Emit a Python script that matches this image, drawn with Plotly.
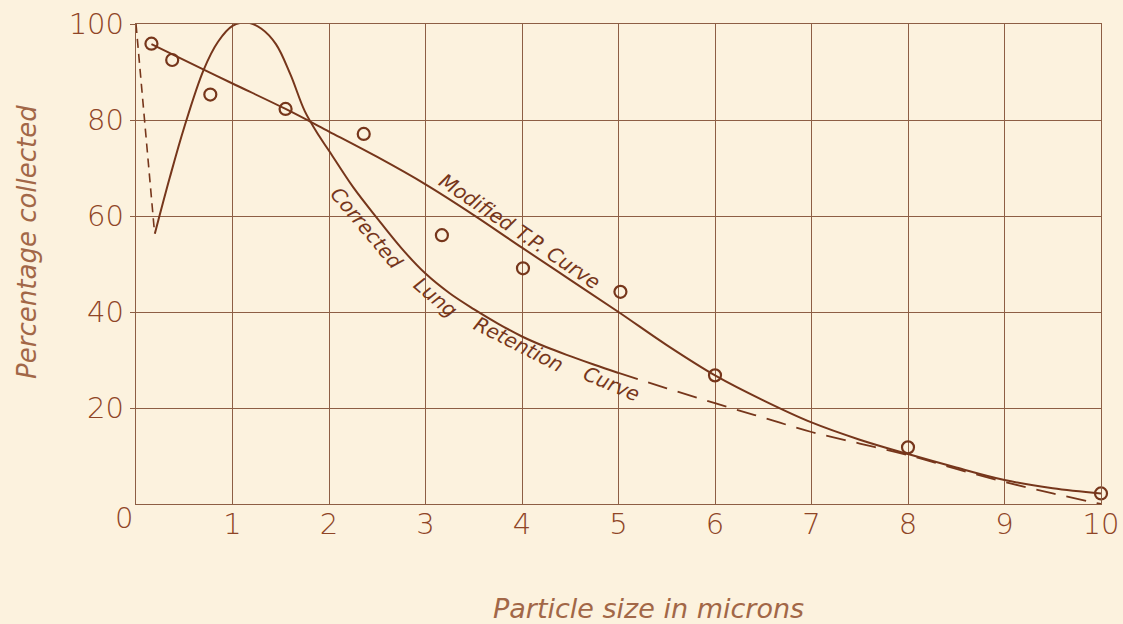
import plotly.graph_objects as go

# Measured collection efficiency (open circles)
pt_x = [0.16, 0.375, 0.77, 1.55, 2.36, 3.17, 4.01, 5.02, 6.0, 8.0, 10.0]
pt_y = [95.9, 92.5, 85.3, 82.3, 77.1, 56.0, 49.1, 44.2, 26.8, 11.8, 2.2]

# Modified T.P. curve
tp_x = [0.16, 0.67, 1.0, 1.55, 2.0, 2.5, 3.0, 3.5, 4.0, 4.5, 5.0, 5.5, 6.0, 6.5, 7.0, 7.5, 8.0, 8.5, 9.0, 9.5, 10.0]
tp_y = [95.8, 90.8, 87.6, 82.3, 77.6, 72.3, 66.6, 60.2, 53.4, 46.7, 40.0, 33.1, 26.8, 21.6, 17.0, 13.4, 10.4, 7.6, 5.0, 3.3, 2.2]

# Corrected lung retention curve (solid part)
lr_x = [0.195, 0.35, 0.5, 0.7, 0.85, 1.0, 1.15, 1.3, 1.45, 1.6, 1.75, 1.9, 2.0, 2.25, 2.5,
        2.75, 3.0, 3.25, 3.5, 3.75, 4.0, 4.25, 4.5, 4.75, 5.0]
lr_y = [56.3, 68.0, 78.5, 90.4, 96.3, 99.6, 100.3, 99.0, 95.8, 89.5, 81.8, 76.6, 73.6, 66.0, 59.5,
        53.3, 48.0, 43.9, 40.6, 37.6, 34.9, 32.7, 30.8, 29.0, 27.3]

# Extrapolated parts of the lung retention curve (dashed)
ld_head_x = [0.0, 0.19]
ld_head_y = [100.0, 57.0]
ld_tail_x = [5.0, 5.5, 6.0, 6.5, 7.0, 7.5, 8.0, 8.5, 9.0, 9.5, 10.0]
ld_tail_y = [27.3, 24.1, 21.0, 18.0, 15.0, 12.6, 10.2, 7.3, 4.6, 2.2, 0.0]

# Axis ticks
x_ticks = [1, 2, 3, 4, 5, 6, 7, 8, 9, 10]
y_ticks = [20, 40, 60, 80, 100]

INK = "#76361b"
GRID = "#8d5e44"
LABEL = "#8f4526"
TITLE = "#a26747"
PAPER = "#fcf2de"
FONT = "DejaVu Sans"

fig = go.Figure()

fig.add_trace(go.Scatter(x=tp_x, y=tp_y, mode="lines",
                         line=dict(color=INK, width=2, shape="spline", smoothing=1.0),
                         cliponaxis=False, showlegend=False, hoverinfo="skip"))
fig.add_trace(go.Scatter(x=lr_x, y=lr_y, mode="lines",
                         line=dict(color=INK, width=2, shape="spline", smoothing=1.0),
                         cliponaxis=False, showlegend=False, hoverinfo="skip"))
fig.add_trace(go.Scatter(x=ld_head_x, y=ld_head_y, mode="lines",
                         line=dict(color=INK, width=1.6, dash="9px,6px"),
                         cliponaxis=False, showlegend=False, hoverinfo="skip"))
fig.add_trace(go.Scatter(x=ld_tail_x, y=ld_tail_y, mode="lines",
                         line=dict(color=INK, width=1.8, dash="20px,11px", shape="spline", smoothing=1.0),
                         cliponaxis=False, showlegend=False, hoverinfo="skip"))
fig.add_trace(go.Scatter(x=pt_x, y=pt_y, mode="markers",
                         marker=dict(symbol="circle-open", size=12, color=INK, line=dict(width=2.2, color=INK)),
                         cliponaxis=False, showlegend=False))

# Curve labels, set along the curves
curve_labels = [
    ("Modified T.P. Curve", 3.97, 56.8, 34),
    ("Corrected", 2.39, 57.5, 50),
    ("Lung", 3.1, 43.1, 40),
    ("Retention", 3.96, 33.3, 27),
    ("Curve", 4.93, 25.0, 23),
]
for text, x, y, ang in curve_labels:
    fig.add_annotation(x=x, y=y, xref="x", yref="y", text=text, showarrow=False,
                       textangle=ang, xanchor="center", yanchor="middle",
                       font=dict(family=FONT, size=20, color=INK, style="italic", weight=300))

# Origin label
fig.add_annotation(x=-0.0124, y=-0.029, xref="paper", yref="paper", text="0", showarrow=False,
                   xanchor="center", yanchor="middle",
                   font=dict(family=FONT, size=29, color=LABEL, weight=300))

# Axis titles
fig.add_annotation(x=-0.113, y=0.546, xref="paper", yref="paper", text="Percentage collected",
                   showarrow=False, textangle=-90, xanchor="center", yanchor="middle",
                   font=dict(family=FONT, size=26, color=TITLE, style="italic", weight=300))
fig.add_annotation(x=0.531, y=-0.217, xref="paper", yref="paper", text="Particle size in microns",
                   showarrow=False, xanchor="center", yanchor="middle",
                   font=dict(family=FONT, size=27, color=TITLE, style="italic", weight=300))

fig.update_xaxes(range=[0, 10], tickvals=x_ticks, ticktext=[str(v) for v in x_ticks],
                 showgrid=True, gridcolor=GRID, gridwidth=1.1,
                 showline=True, linecolor=GRID, linewidth=1.4, mirror=True,
                 zeroline=False, ticks="", ticklabelstandoff=-6, automargin=False,
                 tickfont=dict(family=FONT, size=29, color=LABEL, weight=300))
fig.update_yaxes(range=[0, 100], tickvals=y_ticks, ticktext=[str(v) for v in y_ticks],
                 showgrid=True, gridcolor=GRID, gridwidth=1.1,
                 showline=True, linecolor=GRID, linewidth=1.4, mirror=True,
                 zeroline=False, ticks="outside", ticklen=5, tickcolor=GRID, automargin=False,
                 tickfont=dict(family=FONT, size=29, color=LABEL, weight=300))

fig.update_layout(width=1123, height=624,
                  margin=dict(l=136, r=22, t=24, b=120),
                  paper_bgcolor=PAPER, plot_bgcolor=PAPER,
                  showlegend=False)

fig.write_html("out.html", config={"displayModeBar": False})
